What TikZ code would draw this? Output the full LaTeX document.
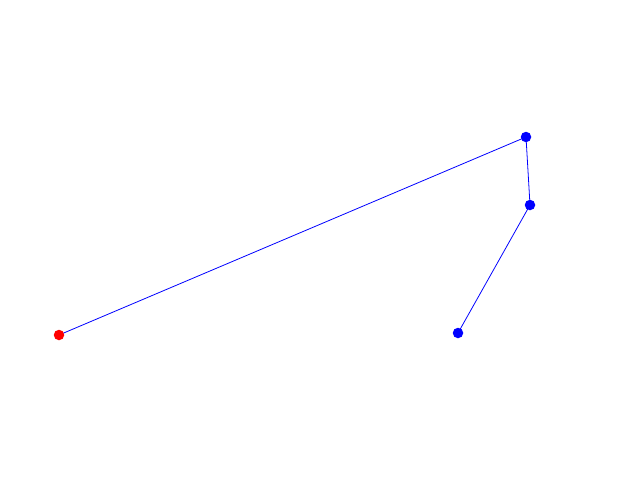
\documentclass[tikz,border=0pt]{standalone}
\usetikzlibrary{backgrounds}
\begin{document}
\begin{tikzpicture}[x=1pt,y=-1pt,
  dot/.style={circle,inner sep=0pt,minimum size=10.5pt,fill=#1},
  link/.style={draw=blue,line width=0.8pt}]
\useasboundingbox (0,0) rectangle (640,480);
\node[dot=red] (a) at (59,335) {};
\node[dot=blue] (b) at (526,137) {};
\node[dot=blue] (c) at (530,205) {};
\node[dot=blue] (d) at (458,333) {};
\begin{scope}[on background layer]
\fill[white] (0,0) rectangle (640,480);
\draw[link] (a.center) -- (b.center) -- (c.center) -- (d.center);
\end{scope}
\end{tikzpicture}
\end{document}
